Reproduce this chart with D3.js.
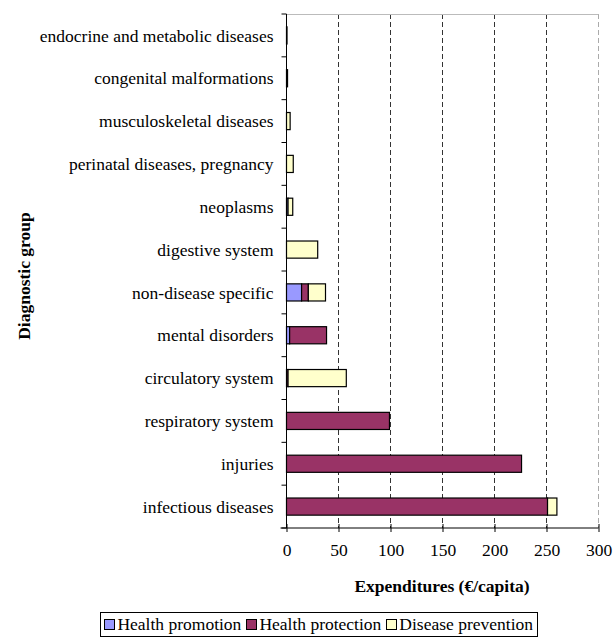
<!DOCTYPE html>
<html><head><meta charset="utf-8">
<script src="https://cdn.jsdelivr.net/npm/d3@7/dist/d3.min.js"></script>
<style>body{margin:0;background:#fff}svg{display:block}</style>
</head><body><svg id="c" width="613" height="638"></svg>
<script>
const categories = ["endocrine and metabolic diseases","congenital malformations","musculoskeletal diseases","perinatal diseases, pregnancy","neoplasms","digestive system","non-disease specific","mental disorders","circulatory system","respiratory system","injuries","infectious diseases"];
const seriesNames = ["Health promotion","Health protection","Disease prevention"];
const promotion  = [0,   0,   0,   0,   1.5, 0,  14.5, 3,   0,   0,  0,   0];
const protection = [0.5, 1,   0,   0,   0,   0,  6.5,  35.5,1.5, 99, 226, 251];
const prevention = [0,   0,   3.5, 6.5, 4.5, 30, 16.5, 0,   56,  0,  0,   9];
const colors = ["#9999FF","#993366","#FFFFCC"];
const xTicks = [0,50,100,150,200,250,300];

const FONT = "'Liberation Serif', 'Times New Roman', Times, serif";
const FS = 17.5;
const svg = d3.select("#c").style("font-family", FONT);
const L=286.5, R=598.5, T=14, B=528;
const x = d3.scaleLinear().domain([0,300]).range([L,R]);
const y = d3.scaleBand().domain(categories).range([T,B]).paddingInner(0.6).paddingOuter(0.3);
const yb = d3.scaleBand().domain(categories).range([T,B]);

// grid
svg.append("g").selectAll("line").data(xTicks.filter(d=>d>0&&d<300)).join("line")
  .attr("x1",d=>x(d)).attr("x2",d=>x(d)).attr("y1",T).attr("y2",B)
  .attr("stroke","#333").attr("stroke-dasharray","5,3").attr("stroke-width",1);
svg.append("line").attr("x1",x(300)).attr("x2",x(300)).attr("y1",T).attr("y2",B)
  .attr("stroke","#aaa").attr("stroke-dasharray","5,3");
svg.append("line").attr("x1",L).attr("x2",R).attr("y1",T+0.5).attr("y2",T+0.5).attr("stroke","#bbb");

// bars
const data = categories.map((c,i)=>({c, v:[promotion[i],protection[i],prevention[i]]}));
const g = svg.append("g");
data.forEach(d=>{
  let acc=0;
  d.v.forEach((v,k)=>{
    if(v<=0) return;
    g.append("rect").attr("x",x(acc)).attr("y",y(d.c)).attr("width",x(acc+v)-x(acc)).attr("height",y.bandwidth())
      .attr("fill",colors[k]).attr("stroke","#000").attr("stroke-width",1.2);
    acc+=v;
  });
});

// y axis
const ya = svg.append("g").attr("transform",`translate(${L},0)`);
ya.append("line").attr("x1",0).attr("x2",0).attr("y1",T).attr("y2",B).attr("stroke","#000");
const bounds = categories.map(c=>yb(c)).concat([B]);
ya.selectAll("line.t").data(bounds).join("line").attr("class","t")
  .attr("x1",-5).attr("x2",0).attr("y1",d=>d).attr("y2",d=>d).attr("stroke","#000");
ya.selectAll("text").data(categories).join("text")
  .attr("x",-13).attr("y",d=>yb(d)+yb.bandwidth()/2).attr("dy","0.35em")
  .attr("text-anchor","end").style("font-family",FONT).attr("font-size",FS).text(d=>d);

// x axis
const xa = svg.append("g").attr("transform",`translate(0,${B})`)
  .call(d3.axisBottom(x).tickValues(xTicks).tickSize(0).tickPadding(16));
xa.attr("font-family",null).attr("font-size",null);
xa.selectAll("text").style("font-family",FONT).attr("font-size",FS).attr("fill","#000");
xa.selectAll(".tick").append("line").attr("y1",-4).attr("y2",4).attr("stroke","#000");
xa.select(".domain").remove();
xa.append("line").attr("x1",L-6).attr("x2",R).attr("y1",0).attr("y2",0).attr("stroke","#000");

svg.append("text").attr("x",442).attr("y",592).attr("text-anchor","middle").style("font-family",FONT)
  .attr("font-size",FS).attr("font-weight","bold").text("Expenditures (€/capita)");
svg.append("text").attr("transform","translate(30,276) rotate(-90)").attr("text-anchor","middle").style("font-family",FONT)
  .attr("font-size",FS).attr("font-weight","bold").text("Diagnostic group");

// legend (laid out from right edge)
const lg = svg.append("g");
const box = lg.append("rect").attr("y",612.5).attr("height",24).attr("fill","#fff").attr("stroke","#000");
const items = seriesNames.map((n,i)=>{
  const sq = lg.append("rect").attr("y",619.5).attr("width",10).attr("height",10).attr("fill",colors[i]).attr("stroke","#000");
  const t = lg.append("text").attr("y",630).style("font-family",FONT).attr("font-size",FS).text(n);
  return {sq,t,w:t.node().getComputedTextLength()};
});
let cx = 533;
for(let i=items.length-1;i>=0;i--){
  const it=items[i];
  it.t.attr("x",cx-it.w);
  it.sq.attr("x",Math.round(cx-it.w-13)+0.5);
  cx = cx-it.w-13-5;
}
box.attr("x",Math.round(cx+1)+0.5).attr("width",537-Math.round(cx+1));
</script></body></html>
